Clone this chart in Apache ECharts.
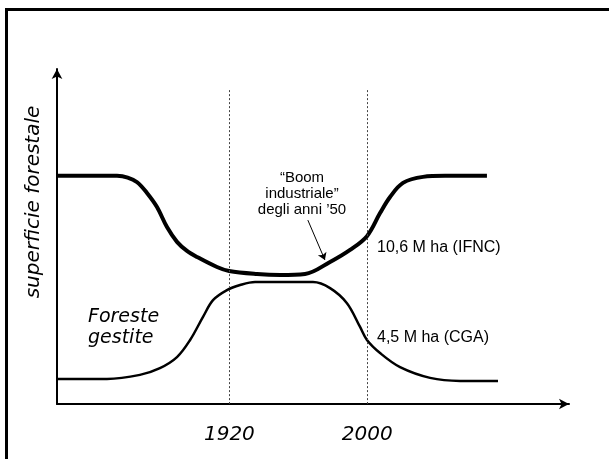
<!DOCTYPE html>
<html>
<head>
<meta charset="utf-8">
<script src="https://cdn.jsdelivr.net/npm/echarts@6/dist/echarts.min.js"></script>
<style>html,body{margin:0;padding:0;background:#fff}#c{width:609px;height:459px}</style>
</head>
<body>
<div id="c"></div>
<script>
// ---- data (conceptual curves) ----
var totalYears  = [1820, 1854.8, 1861.0, 1866.5, 1872.2, 1878.0, 1883.8, 1889.6, 1895.4, 1901.2, 1912.8, 1919.8, 1936.0, 1949.4, 1963.9, 1978.4, 1990.0, 1999.8, 2007.4, 2013.2, 2020.7, 2032.3, 2045.1, 2069.4];
var totalValues = [68.1, 68.1, 67.6, 66.2, 63.0, 58.8, 52.8, 48.4, 45.7, 43.9, 40.9, 39.7, 38.8, 38.5, 38.8, 42.4, 46.0, 50.1, 57.0, 61.8, 66.0, 67.8, 68.1, 68.1];
var managedYears  = [1820, 1849.0, 1868.1, 1879.7, 1889.6, 1897.2, 1904.7, 1910.5, 1918.6, 1926.2, 1934.9, 1968.5, 1978.4, 1988.2, 1995.8, 1999.8, 2007.4, 2019.0, 2036.4, 2053.8, 2075.8];
var managedValues = [7.5, 7.5, 8.7, 10.7, 14.0, 19.1, 26.0, 31.0, 34.0, 35.5, 36.4, 36.4, 34.6, 30.1, 23.0, 19.1, 15.2, 11.0, 7.8, 6.9, 6.9];
var tickYears = [1920, 2000];
var guideTop = 93.7;
var boomArrow = [[1965.5, 54.9], [1975.4, 43.0]];
var yAxisTitle = 'superficie forestale';
var managedLabel = 'Foreste\ngestite';
var boomLabel = '\u201CBoom\nindustriale\u201D\ndegli anni \u201950';
var totalLabel = '10,6 M ha (IFNC)';
var managedAreaLabel = '4,5 M ha (CGA)';

function zip(a, b) { return a.map(function (v, i) { return [v, b[i]]; }); }

var chart = echarts.init(document.getElementById('c'), null, { renderer: 'canvas' });
var option = {
  animation: false,
  backgroundColor: '#fff',
  grid: { left: 57, right: 40, top: 69, bottom: 55 },
  xAxis: {
    type: 'value', min: 1820, max: 2117,
    axisLine: { show: true, onZero: false, symbol: ['none', 'arrow'], symbolSize: [8, 10], lineStyle: { color: '#000', width: 2 } },
    axisTick: { show: false },
    splitLine: { show: false },
    axisLabel: {
      customValues: tickYears, margin: 21,
      color: '#000', fontFamily: 'DejaVu Sans', fontStyle: 'italic', fontSize: 20,
      formatter: function (v) { return String(v); }
    }
  },
  yAxis: {
    type: 'value', min: 0, max: 100,
    axisLine: { show: true, onZero: false, symbol: ['none', 'arrow'], symbolSize: [8, 10], lineStyle: { color: '#000', width: 2 } },
    axisTick: { show: false }, axisLabel: { show: false }, splitLine: { show: false }
  },
  series: [
    {
      type: 'line', data: zip(totalYears, totalValues), smooth: 0.35, symbol: 'none',
      lineStyle: { color: '#000', width: 4, join: 'round' }, z: 3,
      markLine: {
        silent: true, symbol: 'none', label: { show: false },
        lineStyle: { color: '#444', width: 1, type: [2, 2] },
        data: tickYears.map(function (y) { return [{ coord: [y, guideTop] }, { coord: [y, 0] }]; })
      }
    },
    {
      type: 'line', data: zip(managedYears, managedValues), smooth: 0.35, symbol: 'none',
      lineStyle: { color: '#000', width: 2.5, join: 'round' }, z: 3,
      markLine: {
        silent: true, symbol: ['none', 'arrow'], symbolSize: 7, label: { show: false },
        lineStyle: { color: '#000', width: 1, type: 'solid' },
        data: [[{ coord: boomArrow[0] }, { coord: boomArrow[1] }]]
      }
    }
  ],
  graphic: [
    { type: 'rect', shape: { x: 6.5, y: 9.5, width: 700, height: 600 }, style: { fill: 'none', stroke: '#000', lineWidth: 3 }, z: 10 },
    { type: 'text', x: 34, y: 202, rotation: Math.PI / 2,
      style: { text: yAxisTitle, font: 'italic 20px "DejaVu Sans"', fill: '#000', align: 'center', verticalAlign: 'middle' } },
    { type: 'text', x: 88, y: 327.5,
      style: { text: managedLabel, font: 'italic 19px "DejaVu Sans"', lineHeight: 21, fill: '#000', align: 'left', verticalAlign: 'middle' } },
    { type: 'text', x: 302, y: 194,
      style: { text: boomLabel, font: '15px "Liberation Sans"', lineHeight: 16, fill: '#000', align: 'center', verticalAlign: 'middle' } },
    { type: 'text', x: 377, y: 248,
      style: { text: totalLabel, font: '16px "Liberation Sans"', fill: '#000', align: 'left', verticalAlign: 'middle' } },
    { type: 'text', x: 377, y: 338,
      style: { text: managedAreaLabel, font: '16px "Liberation Sans"', fill: '#000', align: 'left', verticalAlign: 'middle' } }
  ]
};
chart.setOption(option);
</script>
</body>
</html>
